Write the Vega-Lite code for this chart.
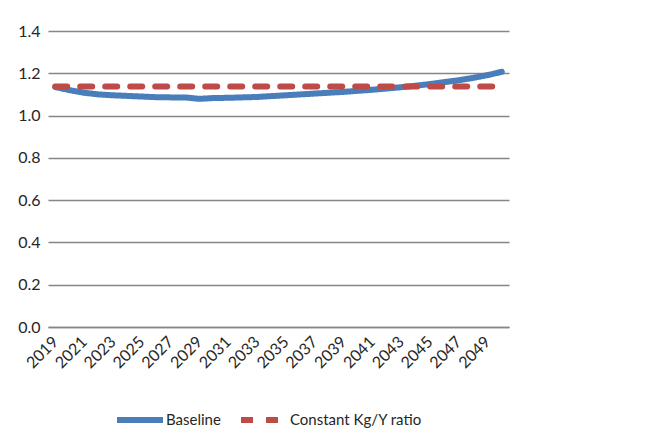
{
  "$schema": "https://vega.github.io/schema/vega-lite/v6.json",
  "width": 461,
  "height": 296,
  "autosize": "none",
  "padding": {"left": 48, "top": 31, "right": 141, "bottom": 116},
  "background": "white",
  "config": {
    "view": {"stroke": null},
    "font": "Lato",
    "axis": {"labelFont": "Lato", "labelFontSize": 16, "labelColor": "#262626"},
    "legend": {"labelFont": "Lato", "labelFontSize": 15, "labelColor": "#262626"}
  },
  "data": {
    "values": [
      {"year": 2019, "series": "Baseline", "value": 1.135},
      {"year": 2020, "series": "Baseline", "value": 1.12},
      {"year": 2021, "series": "Baseline", "value": 1.108},
      {"year": 2022, "series": "Baseline", "value": 1.10},
      {"year": 2023, "series": "Baseline", "value": 1.096},
      {"year": 2024, "series": "Baseline", "value": 1.093},
      {"year": 2025, "series": "Baseline", "value": 1.09},
      {"year": 2026, "series": "Baseline", "value": 1.087},
      {"year": 2027, "series": "Baseline", "value": 1.086},
      {"year": 2028, "series": "Baseline", "value": 1.086},
      {"year": 2029, "series": "Baseline", "value": 1.079},
      {"year": 2030, "series": "Baseline", "value": 1.083},
      {"year": 2031, "series": "Baseline", "value": 1.084},
      {"year": 2032, "series": "Baseline", "value": 1.086},
      {"year": 2033, "series": "Baseline", "value": 1.088},
      {"year": 2034, "series": "Baseline", "value": 1.092},
      {"year": 2035, "series": "Baseline", "value": 1.096},
      {"year": 2036, "series": "Baseline", "value": 1.10},
      {"year": 2037, "series": "Baseline", "value": 1.104},
      {"year": 2038, "series": "Baseline", "value": 1.108},
      {"year": 2039, "series": "Baseline", "value": 1.112},
      {"year": 2040, "series": "Baseline", "value": 1.117},
      {"year": 2041, "series": "Baseline", "value": 1.122},
      {"year": 2042, "series": "Baseline", "value": 1.128},
      {"year": 2043, "series": "Baseline", "value": 1.134},
      {"year": 2044, "series": "Baseline", "value": 1.141},
      {"year": 2045, "series": "Baseline", "value": 1.149},
      {"year": 2046, "series": "Baseline", "value": 1.158},
      {"year": 2047, "series": "Baseline", "value": 1.167},
      {"year": 2048, "series": "Baseline", "value": 1.178},
      {"year": 2049, "series": "Baseline", "value": 1.191},
      {"year": 2050, "series": "Baseline", "value": 1.207},
      {"year": 2019, "series": "Constant Kg/Y ratio", "value": 1.137},
      {"year": 2020, "series": "Constant Kg/Y ratio", "value": 1.137},
      {"year": 2021, "series": "Constant Kg/Y ratio", "value": 1.137},
      {"year": 2022, "series": "Constant Kg/Y ratio", "value": 1.137},
      {"year": 2023, "series": "Constant Kg/Y ratio", "value": 1.137},
      {"year": 2024, "series": "Constant Kg/Y ratio", "value": 1.137},
      {"year": 2025, "series": "Constant Kg/Y ratio", "value": 1.137},
      {"year": 2026, "series": "Constant Kg/Y ratio", "value": 1.137},
      {"year": 2027, "series": "Constant Kg/Y ratio", "value": 1.137},
      {"year": 2028, "series": "Constant Kg/Y ratio", "value": 1.137},
      {"year": 2029, "series": "Constant Kg/Y ratio", "value": 1.137},
      {"year": 2030, "series": "Constant Kg/Y ratio", "value": 1.137},
      {"year": 2031, "series": "Constant Kg/Y ratio", "value": 1.137},
      {"year": 2032, "series": "Constant Kg/Y ratio", "value": 1.137},
      {"year": 2033, "series": "Constant Kg/Y ratio", "value": 1.137},
      {"year": 2034, "series": "Constant Kg/Y ratio", "value": 1.137},
      {"year": 2035, "series": "Constant Kg/Y ratio", "value": 1.137},
      {"year": 2036, "series": "Constant Kg/Y ratio", "value": 1.137},
      {"year": 2037, "series": "Constant Kg/Y ratio", "value": 1.137},
      {"year": 2038, "series": "Constant Kg/Y ratio", "value": 1.137},
      {"year": 2039, "series": "Constant Kg/Y ratio", "value": 1.137},
      {"year": 2040, "series": "Constant Kg/Y ratio", "value": 1.137},
      {"year": 2041, "series": "Constant Kg/Y ratio", "value": 1.137},
      {"year": 2042, "series": "Constant Kg/Y ratio", "value": 1.137},
      {"year": 2043, "series": "Constant Kg/Y ratio", "value": 1.137},
      {"year": 2044, "series": "Constant Kg/Y ratio", "value": 1.137},
      {"year": 2045, "series": "Constant Kg/Y ratio", "value": 1.137},
      {"year": 2046, "series": "Constant Kg/Y ratio", "value": 1.137},
      {"year": 2047, "series": "Constant Kg/Y ratio", "value": 1.137},
      {"year": 2048, "series": "Constant Kg/Y ratio", "value": 1.137},
      {"year": 2049, "series": "Constant Kg/Y ratio", "value": 1.137},
      {"year": 2050, "series": "Constant Kg/Y ratio", "value": 1.137}
    ]
  },
  "mark": {"type": "line", "strokeWidth": 6, "strokeCap": "round", "strokeJoin": "round"},
  "encoding": {
    "x": {
      "field": "year",
      "type": "ordinal",
      "scale": {"type": "point", "padding": 0.5},
      "axis": {
        "title": null,
        "values": [2019, 2021, 2023, 2025, 2027, 2029, 2031, 2033, 2035, 2037, 2039, 2041, 2043, 2045, 2047, 2049],
        "labelAngle": -45,
        "labelAlign": "right",
        "labelBaseline": "middle",
        "labelPadding": 12,
        "ticks": false,
        "domainColor": "#868686",
        "domainWidth": 1.3,
        "grid": false
      }
    },
    "y": {
      "field": "value",
      "type": "quantitative",
      "scale": {"domain": [0, 1.4], "nice": false},
      "axis": {
        "title": null,
        "values": [0, 0.2, 0.4, 0.6, 0.8, 1.0, 1.2, 1.4],
        "format": ".1f",
        "domain": false,
        "ticks": false,
        "labelPadding": 8,
        "gridColor": "#868686",
        "gridWidth": 1.3
      }
    },
    "color": {
      "field": "series",
      "type": "nominal",
      "sort": ["Baseline", "Constant Kg/Y ratio"],
      "scale": {"domain": ["Baseline", "Constant Kg/Y ratio"], "range": ["#4a7ebb", "#be4b48"]},
      "legend": {
        "title": null,
        "orient": "none",
        "direction": "horizontal",
        "legendX": 66,
        "legendY": 363,
        "symbolType": "stroke",
        "symbolSize": 2116,
        "symbolStrokeWidth": 6,
        "columnPadding": 8,
        "labelOffset": 0
      }
    },
    "strokeDash": {
      "field": "series",
      "type": "nominal",
      "sort": ["Baseline", "Constant Kg/Y ratio"],
      "scale": {"domain": ["Baseline", "Constant Kg/Y ratio"], "range": [[1, 0], [12, 13]]},
      "legend": null
    }
  }
}
